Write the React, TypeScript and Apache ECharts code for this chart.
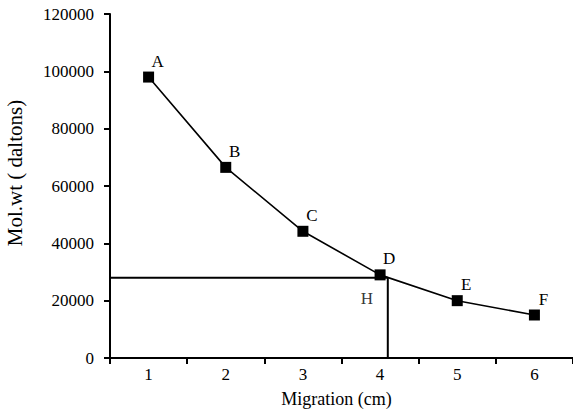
import React, { useEffect, useRef } from "react";
import * as echarts from "echarts";

const categories = ["1", "2", "3", "4", "5", "6"];
const migration = [1, 2, 3, 4, 5, 6];
const molWeight = [98000, 66500, 44200, 29000, 20000, 15000];
const pointLabels = ["A", "B", "C", "D", "E", "F"];
const guideX = 4.1;
const guideY = 28000;
const guideLabel = "H";

const FONT = "Liberation Serif";

export default function App() {
  const ref = useRef<HTMLDivElement>(null);
  useEffect(() => {
    const chart = echarts.init(ref.current!, null, { renderer: "svg" });
    const text = { fontFamily: FONT, fontSize: 17, color: "#000" };
    chart.setOption({
      animation: false,
      backgroundColor: "#fff",
      textStyle: { fontFamily: FONT },
      grid: { left: 110, right: 0, top: 14, bottom: 56, containLabel: false, outerBoundsMode: "none" },
      xAxis: [
        {
          type: "category",
          data: categories,
          boundaryGap: true,
          name: "Migration (cm)",
          nameLocation: "middle",
          nameGap: 32,
          nameTextStyle: { ...text, fontSize: 18, padding: [0, 10, 0, 0] },
          axisLine: { lineStyle: { color: "#000", width: 2 } },
          axisTick: { show: true, interval: 0, length: 6, lineStyle: { color: "#000", width: 2 } },
          axisLabel: { ...text, margin: 8 },
          splitLine: { show: false },
        },
        {
          type: "value",
          min: 0.5,
          max: 6.5,
          show: false,
        },
      ],
      yAxis: {
        type: "value",
        min: 0,
        max: 120000,
        interval: 20000,
        name: "Mol.wt ( daltons)",
        nameLocation: "middle",
        nameGap: 85,
        nameTextStyle: { ...text, fontSize: 21, padding: [0, 0, 0, 26] },
        axisLine: { show: true, lineStyle: { color: "#000", width: 2 } },
        axisTick: { show: true, length: 6, lineStyle: { color: "#000", width: 2 } },
        axisLabel: { ...text, margin: 16, formatter: (v: number) => String(v) },
        splitLine: { show: false },
      },
      series: [
        {
          type: "line",
          xAxisIndex: 1,
          data: [
            [0.5, guideY],
            [guideX, guideY],
            [guideX, 0],
          ],
          symbol: "none",
          lineStyle: { color: "#000", width: 2 },
          z: 2,
        },
        {
          type: "scatter",
          xAxisIndex: 1,
          data: [[guideX, guideY]],
          symbolSize: 0,
          label: {
            show: true,
            formatter: guideLabel,
            offset: [-21, 21],
            ...text,
          },
          z: 2,
        },
        {
          type: "line",
          xAxisIndex: 1,
          data: migration.map((m, i) => [m, molWeight[i]]),
          symbol: "rect",
          symbolSize: 11,
          itemStyle: { color: "#000" },
          lineStyle: { color: "#000", width: 1.6 },
          label: {
            show: true,
            formatter: (p: any) => pointLabels[p.dataIndex],
            position: "top",
            offset: [9, 3],
            ...text,
          },
          z: 3,
        },
      ],
    });
    return () => chart.dispose();
  }, []);
  return (
    <div
      ref={ref}
      style={{ position: "absolute", left: 0, top: 0, width: 573, height: 414 }}
    />
  );
}
